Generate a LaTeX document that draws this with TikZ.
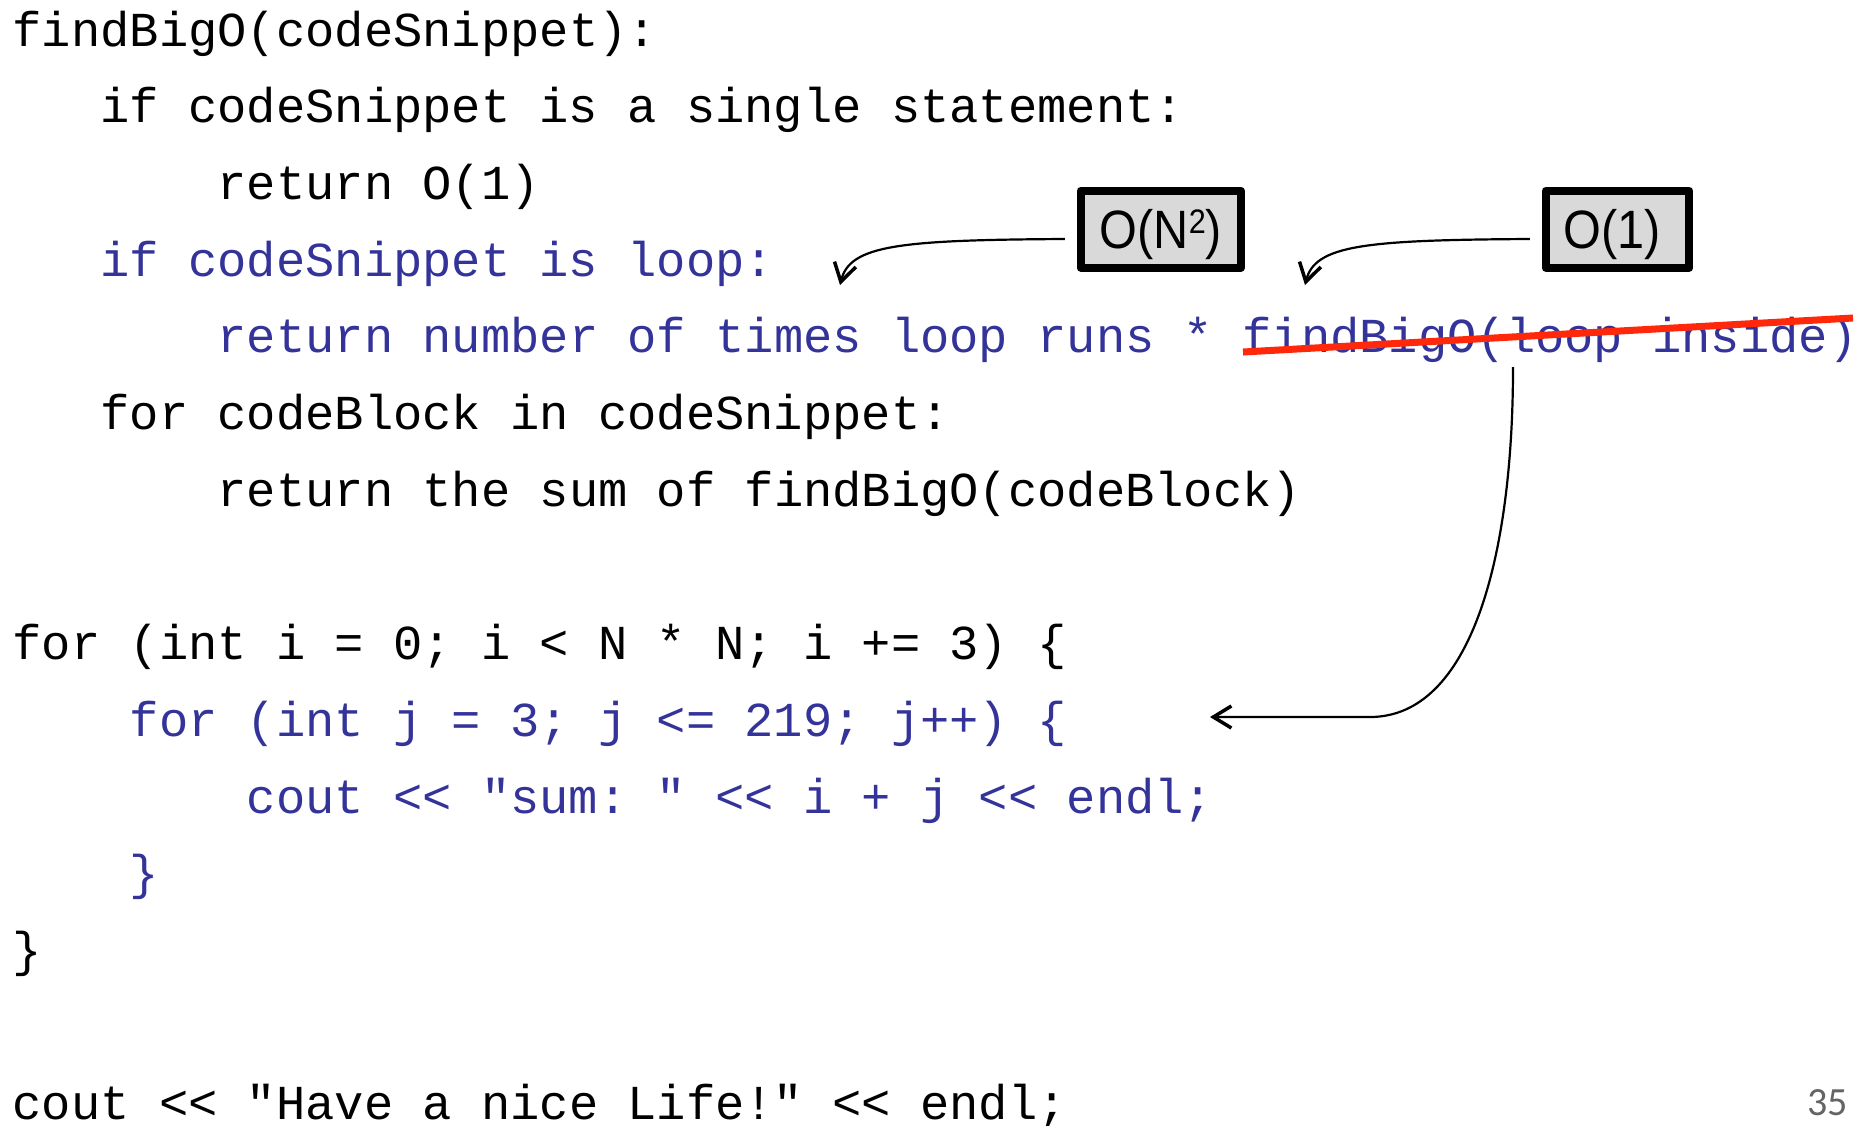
\documentclass[tikz,border=0pt]{standalone}
\usepackage{fontspec}
\setmainfont{Liberation Sans}
\setmonofont{Liberation Mono}
\newfontfamily\numfont{Carlito}
\usetikzlibrary{arrows.meta}
\definecolor{codeblue}{RGB}{51,51,153}
\definecolor{strikered}{RGB}{255,40,10}
\definecolor{boxgray}{RGB}{217,217,217}
\definecolor{numgray}{RGB}{100,100,100}
\tikzset{
  codeline/.style={anchor=base west, inner sep=0pt, font=\ttfamily\fontsize{48.8}{58}\selectfont, text=black},
  bluecode/.style={codeline, text=codeblue},
  bigobox/.style={draw=black, fill=boxgray, line width=8pt, line join=round, minimum height=77pt, inner sep=0pt,
    text height=40pt, text depth=2.4pt, font=\rmfamily\fontsize{54}{64}\selectfont},
  pointer/.style={draw=black, line width=2.2pt, -{Straight Barb[length=18pt,width=22pt,line width=3.5pt]}},
  strike/.style={draw=strikered, line width=7pt},
}
\begin{document}
\begin{tikzpicture}[x=1pt,y=-1pt]
\useasboundingbox[fill=white] (0,0) rectangle (1862,1125);
% pseudo code
\node[codeline] (l1) at (12.5,46) {findBigO(codeSnippet):};
\node[codeline] (l2) at (100.3,122.7) {if codeSnippet is a single statement:};
\node[codeline] (l3) at (217.5,199.4) {return O(1)};
\node[bluecode] (l4) at (100.3,276.1) {if codeSnippet is loop:};
\node[bluecode] (l5) at (217.5,352.8) {return number of times loop runs * findBigO(loop inside)};
\node[codeline] (l6) at (100.3,429.5) {for codeBlock in codeSnippet:};
\node[codeline] (l7) at (217.5,506.2) {return the sum of findBigO(codeBlock)};
% C++ code
\node[codeline] (l8) at (12.5,659.6) {for (int i = 0; i < N * N; i += 3) \{};
\node[bluecode] (l9) at (129.6,736.3) {for (int j = 3; j <= 219; j++) \{};
\node[bluecode] (l10) at (246.7,813) {cout << "sum: " << i + j << endl;};
\node[bluecode] (l11) at (129.6,889.7) {\}};
\node[codeline] (l12) at (12.5,966.4) {\}};
\node[codeline] (l13) at (12.5,1119.8) {cout << "Have a nice Life!" << endl;};
% strike-through
\coordinate (r1) at (1243,352);
\coordinate (r2) at (1853,318);
\draw[strike] (r1) -- (r2);
% boxes
\node[bigobox, minimum width=160.3pt] (b1) at (1160.8,229.2)
  {\scalebox{0.9}[1]{O(N\raisebox{15pt}[0pt][0pt]{\fontsize{34}{34}\selectfont 2})}};
\node[bigobox, minimum width=143.7pt] (b2) at (1617.5,229.2)
  {\hspace*{-5pt}\scalebox{0.9}[1]{O(1)}\hspace*{5pt}};
% arrows
\coordinate (t1) at (840,285);
\coordinate (t2) at (1305,285);
\coordinate (s3) at (1513,367);
\coordinate (c3) at (1370,717);
\coordinate (t3) at (1210,717);
\draw[pointer] ([shift={(-11.7,9.8)}]b1.west) .. controls +(-165,1) and +(10,-40) .. (t1);
\draw[pointer] ([shift={(-11.7,9.8)}]b2.west) .. controls +(-165,1) and +(10,-40) .. (t2);
\draw[pointer] (s3) .. controls (1513,560) and (1470,717) .. (c3) -- (t3);
% page number
\node[anchor=base east, inner sep=0pt, font=\numfont\fontsize{40}{48}\selectfont, text=numgray] (pg) at (1848,1115) {35};
\end{tikzpicture}
\end{document}
